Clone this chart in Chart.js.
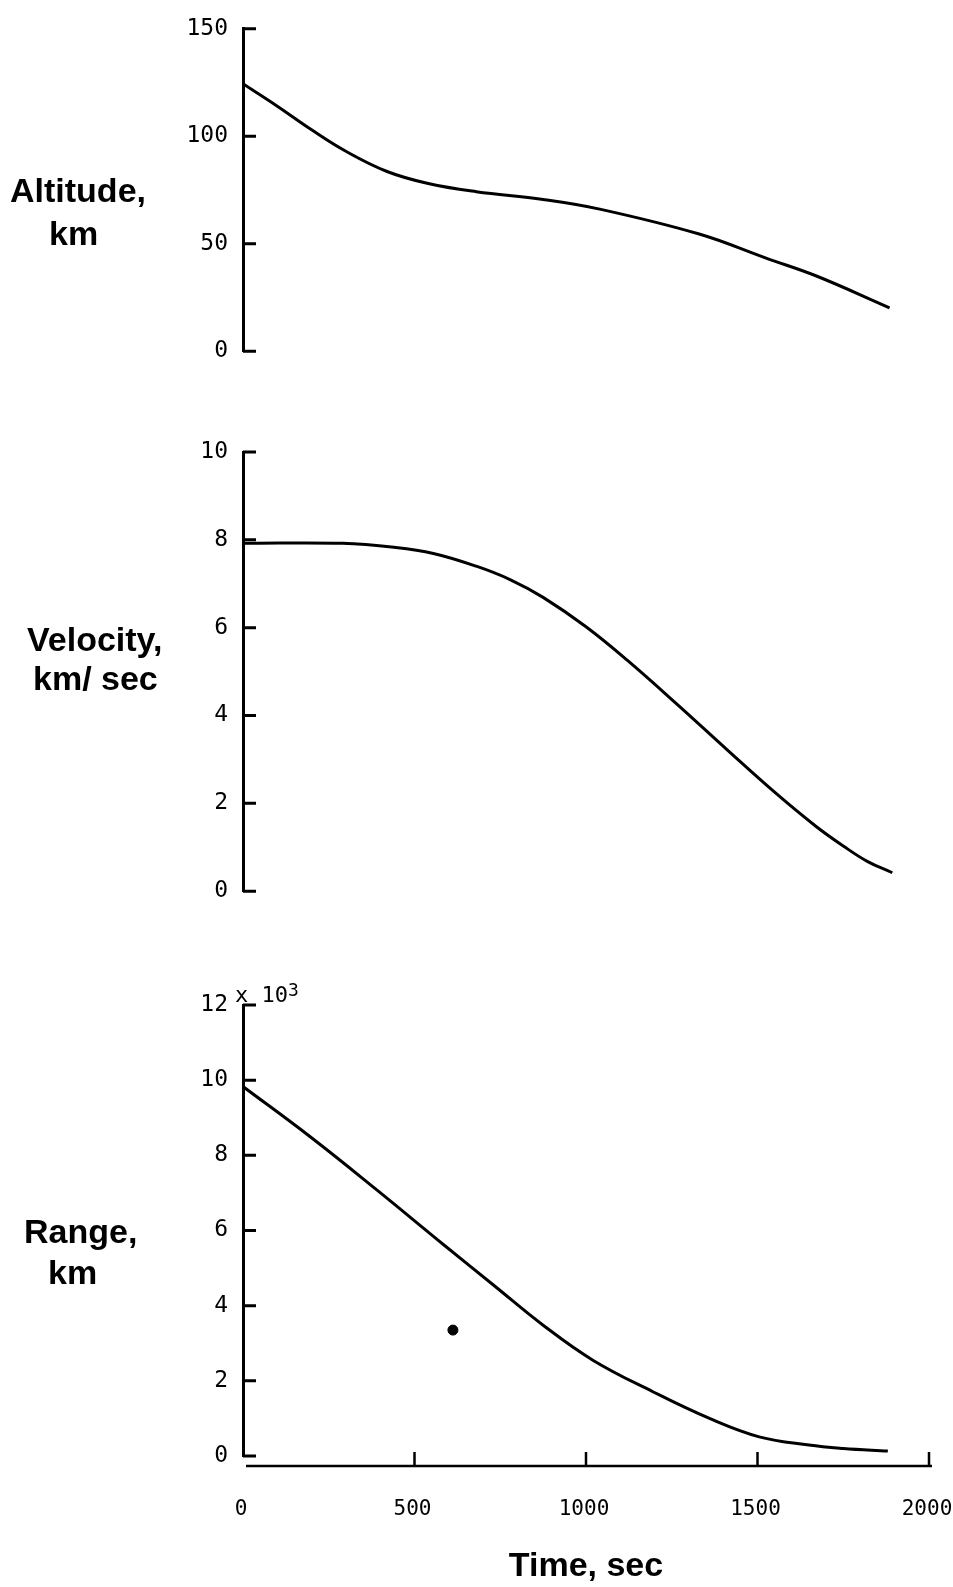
<!DOCTYPE html>
<html>
<head>
<meta charset="utf-8">
<script src="https://cdn.jsdelivr.net/npm/chart.js@4.4.1/dist/chart.umd.min.js"></script>
<style>
  html, body { margin: 0; padding: 0; background: #fff; }
  #page { position: relative; width: 953px; height: 1587px; overflow: hidden; }
  canvas { position: absolute; left: 0; }
  .lbl {
    position: absolute; white-space: pre; color: #000;
    font: bold 34px "Liberation Sans", Arial, sans-serif;
    line-height: 40px;
  }
  .mult {
    position: absolute; white-space: pre; color: #000;
    font: 22px "DejaVu Sans Mono", monospace; line-height: 22px;
  }
  .mult sup { font-size: 18px; position: relative; top: -6px; vertical-align: baseline; }
</style>
</head>
<body>
<div id="page">
  <canvas id="altChart" width="953" height="380" style="top:0px"></canvas>
  <canvas id="velChart" width="953" height="500" style="top:420px"></canvas>
  <canvas id="rangeChart" width="953" height="627" style="top:960px"></canvas>

  <div class="lbl" style="left:10px; top:170px">Altitude,</div>
  <div class="lbl" style="left:49px; top:213px">km</div>
  <div class="lbl" style="left:27px; top:619px">Velocity,</div>
  <div class="lbl" style="left:33px; top:658px">km/ sec</div>
  <div class="lbl" style="left:24px; top:1211px">Range,</div>
  <div class="lbl" style="left:48px; top:1252px">km</div>
  <div class="mult" style="left:235px; top:984px">x 10<sup>3</sup></div>
</div>

<script>
// Time axis (sec)
const timeTicks = [0, 500, 1000, 1500, 2000];

// Altitude, km
const altTime = [0, 100, 200, 300, 420, 540, 680, 875, 1040, 1330, 1525, 1670, 1885];
const altKm = [124.4, 114, 103, 93, 83.6, 78, 74.2, 70.6, 66.1, 54.5, 43.3, 35.1, 20.2];
const altTicks = [0, 50, 100, 150];

// Velocity, km/sec
const velTime = [0, 290, 440, 555, 680, 780, 875, 1000, 1120, 1265, 1410, 1555, 1670, 1750, 1820, 1893];
const velKms = [7.92, 7.92, 7.83, 7.69, 7.40, 7.09, 6.69, 6.02, 5.26, 4.26, 3.23, 2.22, 1.48, 1.03, 0.68, 0.42];
const velTicks = [0, 2, 4, 6, 8, 10];

// Range, km (x 10^3)
const rangeTime = [0, 195, 390, 585, 730, 875, 1020, 1195, 1360, 1505, 1650, 1750, 1880];
const rangeKm = [9.83, 8.50, 7.08, 5.62, 4.55, 3.48, 2.55, 1.71, 1.0, 0.51, 0.29, 0.20, 0.13];
const rangeTicks = [0, 2, 4, 6, 8, 10, 12];

// stray blot on the range panel
const blotTime = [612];
const blotKm = [3.35];

const tickFont = { family: '"DejaVu Sans Mono", monospace', size: 23 };

function toPoints(xs, ys) {
    return xs.map((x, i) => ({ x: x, y: ys[i] }));
}

// Inward ticks on the y axis, and the detached time axis on the bottom panel
const bracketAxes = {
    id: 'bracketAxes',
    afterDraw(chart, args, opts) {
        const ctx = chart.ctx, area = chart.chartArea;
        const y = chart.scales.y;
        ctx.save();
        ctx.strokeStyle = '#000';
        ctx.lineWidth = 3;
        ctx.beginPath();
        y.ticks.forEach(t => {
            const py = y.getPixelForValue(t.value);
            ctx.moveTo(area.left, py);
            ctx.lineTo(area.left + 13, py);
        });
        ctx.stroke();
        if (opts.timeAxis) {
            const x = chart.scales.x;
            const base = area.bottom + 10;
            ctx.lineWidth = 2.5;
            ctx.beginPath();
            ctx.moveTo(area.left + 3, base);
            ctx.lineTo(area.right + 3, base);
            x.ticks.forEach(t => {
                if (t.value > 0) {
                    const px = x.getPixelForValue(t.value);
                    ctx.moveTo(px, base);
                    ctx.lineTo(px, base - 14);
                }
            });
            ctx.stroke();
        }
        ctx.restore();
    }
};

function makePanel(id, datasets, yTicks, padTop, padBottom, showTime) {
    const ctx = document.getElementById(id).getContext('2d');
    return new Chart(ctx, {
        type: 'line',
        data: { datasets: datasets },
        options: {
            responsive: false,
            animation: false,
            devicePixelRatio: 1,
            layout: { padding: { left: 173, right: 24, top: padTop, bottom: padBottom } },
            plugins: {
                legend: { display: false },
                tooltip: { enabled: false },
                bracketAxes: { timeAxis: showTime }
            },
            elements: { point: { radius: 0 } },
            scales: {
                x: {
                    type: 'linear',
                    min: 0,
                    max: 2000,
                    display: showTime,
                    afterBuildTicks: s => { s.ticks = timeTicks.map(v => ({ value: v })); },
                    afterFit: s => {
                        if (showTime) s.height = 131;
                        s.paddingLeft = 0;
                        s.paddingRight = 0;
                    },
                    grid: { display: false },
                    border: { display: false },
                    ticks: {
                        color: '#000',
                        font: { family: '"DejaVu Sans Mono", monospace', size: 21 },
                        padding: 33, maxRotation: 0, labelOffset: -2,
                        callback: v => String(v)
                    },
                    title: {
                        display: true,
                        text: 'Time, sec',
                        color: '#000',
                        font: { family: '"Liberation Sans", Arial, sans-serif', size: 34, weight: 'bold' },
                        padding: 0
                    }
                },
                y: {
                    type: 'linear',
                    min: yTicks[0],
                    max: yTicks[yTicks.length - 1],
                    afterBuildTicks: s => { s.ticks = yTicks.map(v => ({ value: v })); },
                    afterFit: s => { s.width = 70; },
                    grid: { display: true, drawOnChartArea: false, drawTicks: false },
                    border: { display: true, color: '#000', width: 3 },
                    ticks: { color: '#000', font: tickFont, padding: 15, callback: v => String(v) }
                }
            }
        },
        plugins: [bracketAxes]
    });
}

function curve(xs, ys) {
    return {
        data: toPoints(xs, ys),
        borderColor: '#000',
        borderWidth: 3,
        tension: 0.4,
        fill: false
    };
}

makePanel('altChart', [curve(altTime, altKm)], altTicks, 20, 25, false);
makePanel('velChart', [curve(velTime, velKms)], velTicks, 32, 17, false);
makePanel('rangeChart', [
    curve(rangeTime, rangeKm),
    {
        type: 'scatter',
        data: toPoints(blotTime, blotKm),
        pointRadius: 5,
        backgroundColor: '#000',
        borderColor: '#000'
    }
], rangeTicks, 45, 0, true);
</script>
</body>
</html>
